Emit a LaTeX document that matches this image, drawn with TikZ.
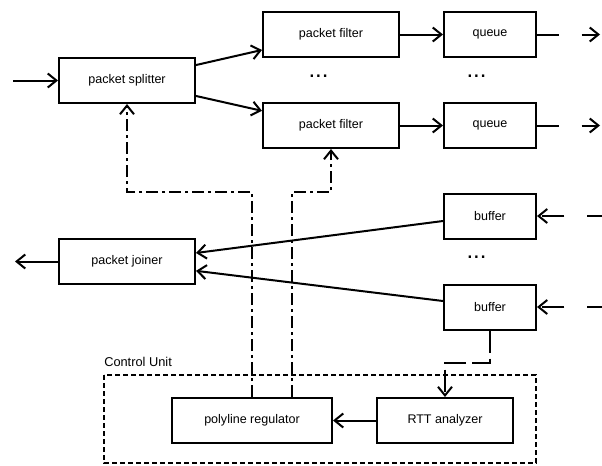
\documentclass[tikz,border=0pt]{standalone}
\usepackage{fontspec}
\setmainfont{Liberation Sans}
\usetikzlibrary{arrows.meta}
\begin{document}
\begin{tikzpicture}[x=0.75pt,y=-0.75pt,
  box/.style={draw, line width=1.5pt, inner sep=0pt, minimum height=33.75pt, font=\fontsize{9.4}{11}\selectfont},
  wide/.style={box, minimum width=102pt},
  narrow/.style={box, minimum width=69pt},
  conn/.style={line width=1.5pt, -{Straight Barb[length=6.5pt,width=10.5pt,line width=1.5pt]}},
  ctrl/.style={conn, dash pattern=on 9pt off 3pt on 2.25pt off 3pt},
  far/.style={conn, dash pattern=on 16.5pt off 17pt},
  fb/.style={conn, dash pattern=on 16.5pt off 4.5pt},
  cu/.style={line width=1.5pt, dash pattern=on 3.5pt off 2.5pt},
  dots/.style={inner sep=0pt, font=\fontsize{18}{18}\selectfont}
]
\useasboundingbox (0,0) rectangle (602,465);

\node[wide] (sp) at (127,80.5) {packet splitter};
\node[wide] (pf1) at (331,34.5) {packet filter};
\node[wide] (pf2) at (331,125.5) {packet filter};
\node[narrow] (q1) at (490,34.5) {queue};
\node[narrow] (q2) at (490,125.5) {queue};
\node[narrow] (bf1) at (490,216) {buffer};
\node[narrow] (bf2) at (490,307) {buffer};
\node[wide] (jn) at (127,261.5) {packet joiner};
\node[box, minimum width=120pt] (pr) at (252,420.5) {polyline regulator};
\node[wide] (rtt) at (445,420.5) {RTT analyzer};

\node[dots, anchor=base] (d1) at (318.5,77) {...};
\node[dots, anchor=base] (d2) at (476.5,77) {...};
\node[dots, anchor=base] (d3) at (476.5,258) {...};

\draw[cu] (104,375) rectangle (536,463);
\node[anchor=west, inner sep=0pt, font=\fontsize{9.6}{11}\selectfont] (cul) at (104,362) {Control Unit};

\coordinate (in) at (13,80.5);
\coordinate (out) at (15,261.5);
\coordinate (o1) at (600,34.5);
\coordinate (o2) at (600,125.5);
\coordinate (i1) at (602,216);
\coordinate (i2) at (602,307);

\draw[conn] (in) -- (sp.west);
\draw[conn] ([yshift=11.6pt]sp.east) -- ([yshift=-11.6pt]pf1.west);
\draw[conn] ([yshift=-11.6pt]sp.east) -- ([yshift=11pt]pf2.west);
\draw[conn] (pf1.east) -- (q1.west);
\draw[conn] (pf2.east) -- (q2.west);
\draw[far] (q1.east) -- (o1);
\draw[far] (q2.east) -- (o2);
\draw[far, dash phase=5.25pt] (i1) -- (bf1.east);
\draw[far, dash phase=5.25pt] (i2) -- (bf2.east);
\draw[conn] ([yshift=-3.75pt]bf1.west) -- ([yshift=6.4pt]jn.east);
\draw[conn] ([yshift=4.5pt]bf2.west) -- ([yshift=-7pt]jn.east);
\draw[conn] (jn.west) -- (out);
\draw[conn] (rtt.west) -- (pr.east);
\draw[ctrl] (pr.north) -- ++(0,-205) -| (sp.south);
\draw[ctrl] ([xshift=30pt]pr.north) -- ++(0,-205) -| (pf2.south);
\draw[fb] (bf2.south) -- ++(0,32) -| (rtt.north);
\end{tikzpicture}
\end{document}
